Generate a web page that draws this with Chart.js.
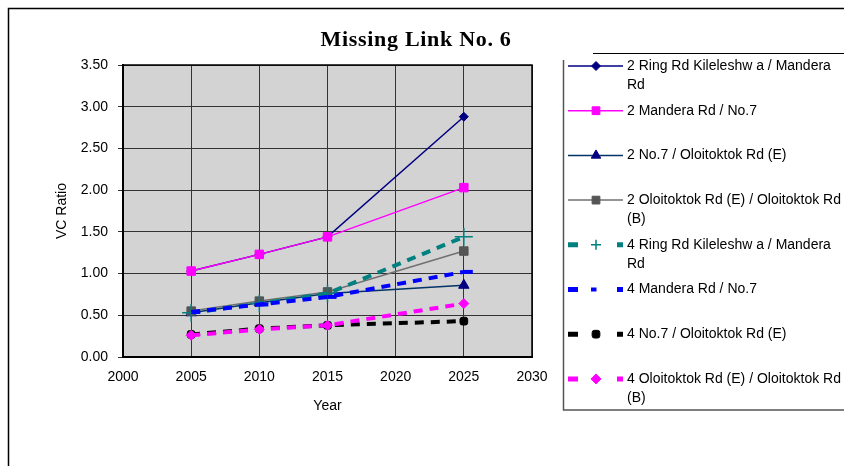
<!DOCTYPE html>
<html>
<head>
<meta charset="utf-8">
<script src="https://cdn.jsdelivr.net/npm/chart.js@4.4.1/dist/chart.umd.min.js"></script>
<style>
  html, body { margin: 0; padding: 0; background: #fff; }
  canvas { display: block; }
</style>
</head>
<body>
<canvas id="myChart" width="844" height="466"></canvas>
<script>
// data
const years = [2005, 2010, 2015, 2025];
const xTicks = [2000, 2005, 2010, 2015, 2020, 2025, 2030];
const yTicks = [0, 0.5, 1, 1.5, 2, 2.5, 3, 3.5];

const seriesNames = [
    '2 Ring Rd Kileleshw a / Mandera Rd',
    '2 Mandera Rd / No.7',
    '2 No.7 / Oloitoktok Rd (E)',
    '2 Oloitoktok Rd (E) / Oloitoktok Rd (B)',
    '4 Ring Rd Kileleshw a / Mandera Rd',
    '4 Mandera Rd / No.7',
    '4 No.7 / Oloitoktok Rd (E)',
    '4 Oloitoktok Rd (E) / Oloitoktok Rd (B)'
];
const ringRd2 = [1.03, 1.23, 1.44, 2.88];
const mandera2 = [1.03, 1.23, 1.44, 2.03];
const no7Rd2 = [0.53, 0.65, 0.76, 0.86];
const oloitoktok2 = [0.55, 0.67, 0.78, 1.27];
const ringRd4 = [0.53, 0.64, 0.76, 1.44];
const mandera4 = [0.54, 0.63, 0.72, 1.02];
const no7Rd4 = [0.27, 0.34, 0.38, 0.43];
const oloitoktok4 = [0.26, 0.33, 0.38, 0.64];

const allValues = [ringRd2, mandera2, no7Rd2, oloitoktok2, ringRd4, mandera4, no7Rd4, oloitoktok4];

const styles = [
    { line: '#000080', point: '#000080', shape: 'rectRot', r: 4.5, w: 1.5, dash: [] },
    { line: '#ff00ff', point: '#ff00ff', shape: 'rect', r: 6, w: 1.5, dash: [] },
    { line: '#003366', point: '#000080', shape: 'triangle', r: 6, w: 1.5, dash: [] },
    { line: '#707070', point: '#555555', shape: 'rect', r: 6, w: 1.5, dash: [] },
    { line: '#008080', point: '#008080', shape: 'cross', r: 9, w: 4, pw: 1.5, dash: [9, 7] },
    { line: '#0000ff', point: '#0000ff', shape: 'dash', r: 9, w: 4, pw: 4, dash: [9, 7] },
    { line: '#000000', point: '#000000', shape: 'rectRounded', r: 4.5, w: 4, dash: [9, 7] },
    { line: '#ff00ff', point: '#ff00ff', shape: 'rectRot', r: 5, w: 4, dash: [9, 7] }
];

const datasets = allValues.map((vals, i) => ({
    label: seriesNames[i],
    data: years.map((yr, j) => ({ x: yr, y: vals[j] })),
    borderColor: styles[i].line,
    borderWidth: styles[i].w,
    borderDash: styles[i].dash,
    pointStyle: styles[i].shape,
    pointRadius: styles[i].r,
    pointBorderWidth: styles[i].pw || 1,
    pointBorderColor: styles[i].point,
    pointBackgroundColor: styles[i].point,
    tension: 0,
    fill: false,
    // later series on top, like the original
    order: allValues.length - i
}));

const frame = {
    id: 'frame',
    beforeDraw(chart) {
        const { ctx, chartArea: a } = chart;
        ctx.save();
        ctx.fillStyle = '#d3d3d3';
        ctx.fillRect(a.left, a.top, a.right - a.left, a.bottom - a.top);
        ctx.restore();
    },
    afterDraw(chart) {
        const { ctx, chartArea: a } = chart;
        ctx.save();
        // plot border
        ctx.strokeStyle = '#000';
        ctx.lineWidth = 1.5;
        ctx.strokeRect(a.left, a.top, a.right - a.left, a.bottom - a.top);

        // outer border
        ctx.lineWidth = 1.5;
        ctx.beginPath();
        ctx.moveTo(8.5, 466);
        ctx.lineTo(8.5, 8.5);
        ctx.lineTo(844, 8.5);
        ctx.stroke();

        // title
        ctx.fillStyle = '#000';
        ctx.font = 'bold 22px "Liberation Serif", "Times New Roman", serif';
        ctx.letterSpacing = '0.7px';
        ctx.textAlign = 'center';
        ctx.textBaseline = 'middle';
        ctx.fillText('Missing Link No. 6', 416, 40);
        ctx.letterSpacing = '0px';

        // legend box
        ctx.strokeStyle = '#000';
        ctx.lineWidth = 1.2;
        ctx.beginPath();
        ctx.moveTo(593, 53.5);
        ctx.lineTo(844, 53.5);
        ctx.stroke();
        ctx.strokeStyle = '#555';
        ctx.lineWidth = 1.5;
        ctx.beginPath();
        ctx.moveTo(563.5, 60);
        ctx.lineTo(563.5, 410);
        ctx.lineTo(844, 410);
        ctx.stroke();

        // legend entries
        ctx.font = '14px "Liberation Sans", Arial, sans-serif';
        ctx.textAlign = 'left';
        ctx.textBaseline = 'middle';
        chart.data.datasets.forEach((ds, i) => {
            const y = 66 + i * 44.7;
            const dashed = ds.borderDash.length > 0;
            ctx.save();
            ctx.strokeStyle = ds.borderColor;
            ctx.lineWidth = dashed ? 5 : ds.borderWidth;
            ctx.setLineDash(dashed ? [10, 39] : []);
            ctx.beginPath();
            ctx.moveTo(568, y);
            ctx.lineTo(623, y);
            ctx.stroke();
            ctx.setLineDash([]);
            ctx.fillStyle = ds.pointBackgroundColor;
            ctx.strokeStyle = ds.pointBorderColor;
            ctx.lineWidth = ds.pointBorderWidth;
            const r = ds.pointStyle === 'cross' ? 5 : Math.min(ds.pointRadius, 5.5);
            Chart.helpers.drawPoint(ctx, {
                pointStyle: ds.pointStyle,
                radius: r,
                rotation: 0,
                borderWidth: ds.pointBorderWidth
            }, ds.pointStyle === 'dash' ? 591 : 596, y);
            ctx.restore();

            // wrap the label like the original
            const words = ds.label.split(' ');
            const lines = [];
            let cur = '';
            words.forEach(w => {
                const t = cur ? cur + ' ' + w : w;
                if (ctx.measureText(t).width > 216 && cur) {
                    lines.push(cur);
                    cur = w;
                } else {
                    cur = t;
                }
            });
            lines.push(cur);
            ctx.fillStyle = '#000';
            lines.forEach((ln, k) => ctx.fillText(ln, 627, y + k * 19));
        });
        ctx.restore();
    }
};

Chart.defaults.font.family = '"Liberation Sans", Arial, sans-serif';
Chart.defaults.font.size = 14;
Chart.defaults.color = '#000';

new Chart(document.getElementById('myChart').getContext('2d'), {
    type: 'line',
    data: { datasets: datasets },
    options: {
        responsive: false,
        animation: false,
        layout: { padding: { top: 65, right: 312, bottom: 0, left: 0 } },
        plugins: {
            legend: { display: false },
            tooltip: { enabled: false }
        },
        scales: {
            x: {
                type: 'linear',
                min: xTicks[0],
                max: xTicks[xTicks.length - 1],
                afterBuildTicks: scale => { scale.ticks = xTicks.map(v => ({ value: v })); },
                afterFit: scale => { scale.height = 109; },
                ticks: {
                    padding: 12,
                    callback: v => String(v)
                },
                grid: { color: '#333', lineWidth: 1, drawTicks: false },
                border: { color: '#000', width: 2 },
                title: { display: true, text: 'Year', padding: { top: 0, bottom: 51 } }
            },
            y: {
                min: yTicks[0],
                max: yTicks[yTicks.length - 1],
                afterBuildTicks: scale => { scale.ticks = yTicks.map(v => ({ value: v })); },
                afterFit: scale => { scale.width = 123; },
                ticks: {
                    padding: 10,
                    callback: v => Number(v).toFixed(2)
                },
                grid: { color: '#333', lineWidth: 1, tickLength: 5 },
                border: { color: '#000', width: 2 },
                title: { display: true, text: 'VC Ratio', padding: { top: 54, bottom: 0 } }
            }
        }
    },
    plugins: [frame]
});
</script>
</body>
</html>
